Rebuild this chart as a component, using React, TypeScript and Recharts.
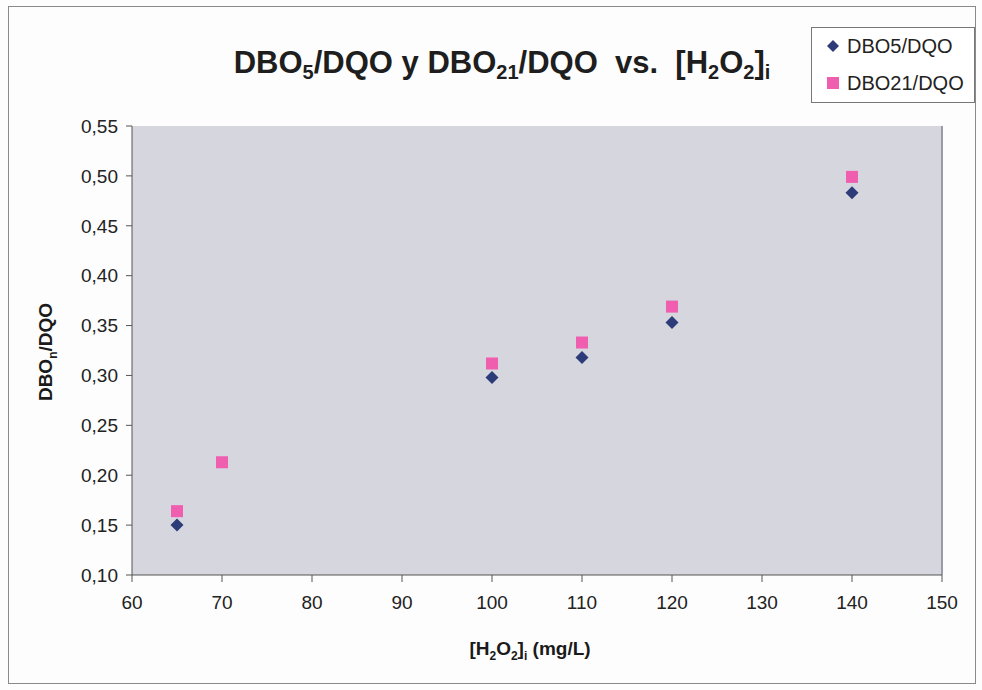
import React from "react";
import {
  ScatterChart,
  Scatter,
  XAxis,
  YAxis,
  CartesianGrid,
  ReferenceLine,
} from "recharts";

const h2o2Dbo5 = [65, 100, 110, 120, 140];
const dbo5Ratio = [0.15, 0.298, 0.318, 0.353, 0.483];
const h2o2Dbo21 = [65, 70, 100, 110, 120, 140];
const dbo21Ratio = [0.164, 0.213, 0.312, 0.333, 0.369, 0.499];
const xTicks = [60, 70, 80, 90, 100, 110, 120, 130, 140, 150];
const yTicks = [0.1, 0.15, 0.2, 0.25, 0.3, 0.35, 0.4, 0.45, 0.5, 0.55];
const seriesNames = ["DBO5/DQO", "DBO21/DQO"];

const dbo5Data = h2o2Dbo5.map((x, i) => ({ x, y: dbo5Ratio[i] }));
const dbo21Data = h2o2Dbo21.map((x, i) => ({ x, y: dbo21Ratio[i] }));

const BLUE = "#2d3c78";
const PINK = "#f05eb0";
const FONT = "'Liberation Sans', Arial, sans-serif";

const Diamond = (props: any) => {
  const { cx, cy } = props;
  const r = 6.5;
  return (
    <polygon
      points={`${cx},${cy - r} ${cx + r},${cy} ${cx},${cy + r} ${cx - r},${cy}`}
      fill={BLUE}
    />
  );
};

const Square = (props: any) => {
  const { cx, cy } = props;
  const s = 6;
  return <rect x={cx - s} y={cy - s} width={2 * s} height={2 * s} fill={PINK} />;
};

const YLabel = () => {
  const x = 52;
  const y = 352;
  return (
    <text
      x={x}
      y={y}
      transform={`rotate(-90, ${x}, ${y})`}
      textAnchor="middle"
      fontFamily={FONT}
      fontWeight="bold"
      fontSize={19}
      fill="#1a1a1a"
    >
      DBO
      <tspan fontSize={12} dy={5}>n</tspan>
      <tspan dy={-5}>/DQO</tspan>
    </text>
  );
};

const XLabel = () => {
  const x = 530;
  const y = 655;
  return (
    <text
      x={x}
      y={y}
      textAnchor="middle"
      fontFamily={FONT}
      fontWeight="bold"
      fontSize={19}
      fill="#1a1a1a"
    >
      [H
      <tspan fontSize={12} dy={5}>2</tspan>
      <tspan dy={-5}>O</tspan>
      <tspan fontSize={12} dy={5}>2</tspan>
      <tspan dy={-5}>]</tspan>
      <tspan fontSize={12} dy={5}>i</tspan>
      <tspan dy={-5}> (mg/L)</tspan>
    </text>
  );
};

const LegendBox = () => (
  <div
    style={{
      position: "absolute",
      left: 811,
      top: 27,
      width: 164,
      height: 76,
      border: "1px solid #777",
      background: "#ffffff",
      boxSizing: "border-box",
      fontFamily: FONT,
      fontSize: 20,
      color: "#222",
      paddingLeft: 14,
    }}
  >
    <div style={{ display: "flex", alignItems: "center", height: 36, paddingTop: 0 }}>
      <svg width={14} height={14} style={{ marginRight: 7 }}>
        <polygon points="7,1 13,7 7,13 1,7" fill={BLUE} />
      </svg>
      {seriesNames[0]}
    </div>
    <div style={{ display: "flex", alignItems: "center", height: 38 }}>
      <svg width={14} height={14} style={{ marginRight: 7 }}>
        <rect x={1} y={1} width={12} height={12} fill={PINK} />
      </svg>
      {seriesNames[1]}
    </div>
  </div>
);

const subStyle = { fontSize: 20, verticalAlign: "-0.3em" } as const;

export default function App() {
  return (
    <div
      style={{
        position: "absolute",
        left: 0,
        top: 0,
        width: 982,
        height: 690,
        background: "#fdfdfd",
      }}
    >
      <div
        style={{
          position: "absolute",
          left: 8,
          top: 6,
          width: 966,
          height: 676,
          border: "1px solid #8a8a8a",
        }}
      />
      <div
        style={{
          position: "absolute",
          left: 0,
          width: 1004,
          top: 44,
          textAlign: "center",
          fontFamily: FONT,
          fontWeight: "bold",
          fontSize: 31,
          lineHeight: "38px",
          color: "#1e1e1e",
          whiteSpace: "pre",
        }}
      >
        DBO<span style={subStyle}>5</span>/DQO y DBO<span style={subStyle}>21</span>/DQO  vs.  [H
        <span style={subStyle}>2</span>O<span style={subStyle}>2</span>]
        <span style={subStyle}>i</span>
      </div>
      <ScatterChart
        width={982}
        height={690}
        margin={{ top: 126, right: 40, bottom: 55, left: 72 }}
        style={{ position: "absolute", left: 0, top: 0 }}
      >
        <CartesianGrid
          horizontal={false}
          vertical={false}
          fill="#d6d6de"
          fillOpacity={1}
        />
        <XAxis
          type="number"
          dataKey="x"
          domain={[60, 150]}
          ticks={xTicks}
          height={60}
          tickSize={7}
          tickMargin={14}
          stroke="#555"
          tick={{ fill: "#222", fontSize: 19, fontFamily: FONT }}
          label={<XLabel />}
        />
        <YAxis
          type="number"
          dataKey="y"
          domain={[0.1, 0.55]}
          ticks={yTicks}
          width={60}
          tickSize={6}
          tickMargin={8}
          stroke="#555"
          tickFormatter={(v: number) => v.toFixed(2).replace(".", ",")}
          tick={{ fill: "#222", fontSize: 19, fontFamily: FONT }}
          label={<YLabel />}
        />
        <ReferenceLine x={150} stroke="#9a9aaa" strokeWidth={2} />
        <Scatter
          name={seriesNames[0]}
          data={dbo5Data}
          fill={BLUE}
          shape={<Diamond />}
          isAnimationActive={false}
        />
        <Scatter
          name={seriesNames[1]}
          data={dbo21Data}
          fill={PINK}
          shape={<Square />}
          isAnimationActive={false}
        />
      </ScatterChart>
      <LegendBox />
    </div>
  );
}
